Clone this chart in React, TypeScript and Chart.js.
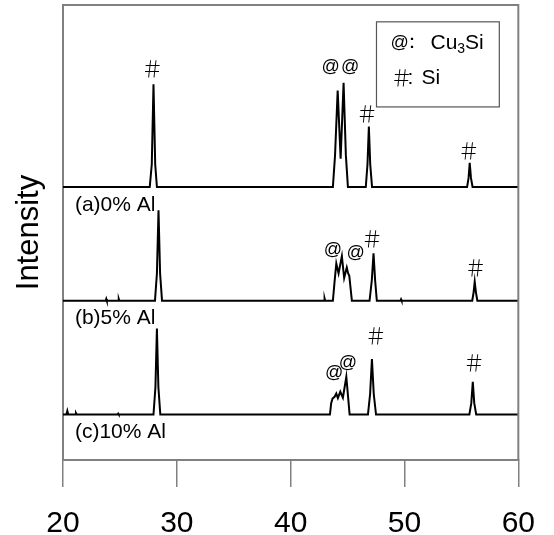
import React, { useEffect, useRef } from 'react';
import { Chart, registerables } from 'chart.js';

Chart.register(...registerables);

// ---- data ----
const X_MIN = 20;
const X_MAX = 60;
const X_STEP = 10;
const Y_TITLE = 'Intensity';

const SAMPLE_LABELS = ['(a)0% Al', '(b)5% Al', '(c)10% Al'];
// vertical offset of each stacked pattern (baseline level)
const SAMPLE_OFFSETS = [60, 35, 10];

// [2θ, intensity above baseline]
const PATTERN_A: [number, number][] = [
  [20, 0], [27.62, 0], [27.8, 5], [27.95, 22.6], [28.1, 5], [28.25, 0],
  [43.71, 0], [43.9, 7], [44.13, 21.2], [44.39, 6.2], [44.65, 22.9], [44.85, 7], [45.03, 0],
  [46.6, 0], [46.75, 5], [46.87, 13.3], [46.99, 5], [47.15, 0],
  [55.5, 0], [55.63, 2], [55.73, 5.3], [55.84, 2], [55.98, 0],
  [60, 0],
];

const PATTERN_B: [number, number][] = [
  [20, 0], [23.75, 0], [23.8, 0.4], [23.85, 0], [24.85, 0], [24.9, 0.4], [24.95, 0],
  [28.08, 0], [28.25, 6], [28.39, 19.9], [28.53, 6], [28.7, 0],
  [42.93, 0], [42.98, 0.5], [43.03, 0],
  [43.71, 0], [43.85, 4], [44.01, 8.2], [44.21, 6.0], [44.5, 9.8], [44.7, 5.0],
  [44.93, 7.3], [45.05, 6.0], [45.15, 5.5], [45.38, 0],
  [46.93, 0], [47.13, 4.5], [47.28, 10.4], [47.42, 4.5], [47.57, 0],
  [49.65, 0], [49.7, 0.3], [49.75, 0],
  [55.95, 0], [56.07, 1.8], [56.17, 4.2], [56.28, 1.8], [56.4, 0],
  [60, 0],
];

const PATTERN_C: [number, number][] = [
  [20, 0], [20.3, 0], [20.38, 0.8], [20.46, 0], [21.08, 0], [21.14, 0.3], [21.2, 0],
  [24.8, 0], [24.85, 0.2], [24.9, 0],
  [27.95, 0], [28.12, 6], [28.25, 18.9], [28.38, 6], [28.55, 0],
  [43.45, 0], [43.56, 2.5], [43.68, 3.5], [43.86, 3.9], [44.01, 4.6], [44.15, 3.6],
  [44.36, 5.0], [44.59, 3.7], [44.89, 8.3], [45.18, 0],
  [46.79, 0], [46.98, 4.5], [47.14, 12.2], [47.3, 4.5], [47.5, 0],
  [55.7, 0], [55.87, 2.5], [56.0, 7.2], [56.13, 2.5], [56.3, 0],
  [60, 0],
];

const PATTERNS = [PATTERN_A, PATTERN_B, PATTERN_C];

// peak markers: [sample index, 2θ, height above baseline, symbol]
const PEAK_MARKS: [number, number, number, string][] = [
  [0, 27.83, 26.0, '#'],
  [0, 43.51, 26.4, '@'],
  [0, 45.22, 26.4, '@'],
  [0, 46.71, 16.2, '#'],
  [0, 55.64, 8.1, '#'],
  [1, 43.71, 11.2, '@'],
  [1, 45.7, 10.5, '@'],
  [1, 47.15, 13.7, '#'],
  [1, 56.23, 7.3, '#'],
  [2, 43.82, 9.2, '@'],
  [2, 45.03, 11.4, '@'],
  [2, 47.48, 17.3, '#'],
  [2, 56.11, 11.3, '#'],
];

// legend entries: symbol, phase (main part, subscript, rest)
const LEGEND_ITEMS: [string, string, string, string][] = [
  ['@', 'Cu', '3', 'Si'],
  ['#', 'Si', '', ''],
];

const SANS = '"Liberation Sans", Arial, Helvetica, sans-serif';
const HASH_FONT = '300 22px "Noto Sans CJK SC", "Noto Sans CJK JP", sans-serif';

function drawText(
  ctx: CanvasRenderingContext2D,
  s: string,
  px: number,
  py: number,
  font: string,
  align: CanvasTextAlign = 'center',
) {
  ctx.font = font;
  ctx.textAlign = align;
  ctx.textBaseline = 'middle';
  ctx.fillStyle = '#000';
  ctx.fillText(s, px, py);
}

function drawSymbol(ctx: CanvasRenderingContext2D, sym: string, px: number, py: number, align: CanvasTextAlign = 'center') {
  if (sym === '#') {
    drawText(ctx, '＃', px, py, HASH_FONT, align);
  } else {
    drawText(ctx, '@', px, py, `18px ${SANS}`, align);
  }
}

const annotationPlugin = {
  id: 'xrdAnnotations',
  afterDatasetsDraw(chart: any) {
    const { ctx, chartArea, scales } = chart;
    const x = scales.x;
    const y = scales.y;
    ctx.save();

    // frame (top and right sides)
    ctx.strokeStyle = '#808080';
    ctx.lineWidth = 2;
    ctx.beginPath();
    ctx.moveTo(chartArea.left, chartArea.top);
    ctx.lineTo(chartArea.right, chartArea.top);
    ctx.lineTo(chartArea.right, chartArea.bottom);
    ctx.stroke();

    // sample labels
    SAMPLE_LABELS.forEach((lab, i) => {
      drawText(ctx, lab, x.getPixelForValue(21.05), y.getPixelForValue(SAMPLE_OFFSETS[i] - 3.9), `21px ${SANS}`, 'left');
    });

    // peak markers
    PEAK_MARKS.forEach(([s, tt, h, sym]) => {
      drawSymbol(ctx, sym, x.getPixelForValue(tt), y.getPixelForValue(SAMPLE_OFFSETS[s] + h));
    });

    // legend box
    const bx0 = x.getPixelForValue(47.54);
    const bx1 = x.getPixelForValue(58.33);
    const by0 = y.getPixelForValue(96.3);
    const by1 = y.getPixelForValue(77.6);
    ctx.strokeStyle = '#555';
    ctx.lineWidth = 1.2;
    ctx.strokeRect(bx0, by0, bx1 - bx0, by1 - by0);

    const rowY = [by0 + 21, by0 + 56];
    LEGEND_ITEMS.forEach(([sym, main, sub, rest], i) => {
      const ry = rowY[i];
      const sx = bx0 + 14;
      drawSymbol(ctx, sym, sx, ry, 'left');
      let cx: number;
      if (sym === '@') {
        drawText(ctx, '：', sx + 12, ry, `20px ${SANS}`, 'left');
        cx = sx + 40;
      } else {
        drawText(ctx, ':', sx + 17, ry, `21px ${SANS}`, 'left');
        cx = sx + 31;
      }
      drawText(ctx, main, cx, ry, `21px ${SANS}`, 'left');
      ctx.font = `21px ${SANS}`;
      cx += ctx.measureText(main).width;
      if (sub) {
        drawText(ctx, sub, cx, ry + 6, `14px ${SANS}`, 'left');
        ctx.font = `14px ${SANS}`;
        cx += ctx.measureText(sub).width;
      }
      if (rest) {
        drawText(ctx, rest, cx, ry, `21px ${SANS}`, 'left');
      }
    });

    ctx.restore();
  },
};

export default function App() {
  const canvasRef = useRef<HTMLCanvasElement | null>(null);

  useEffect(() => {
    if (!canvasRef.current) return;
    const datasets = PATTERNS.map((pat, i) => ({
      label: SAMPLE_LABELS[i],
      data: pat.map(([tt, v]) => ({ x: tt, y: v + SAMPLE_OFFSETS[i] })),
      borderColor: '#000',
      borderWidth: 2,
      pointRadius: 0,
      tension: 0,
      fill: false,
    }));

    const chart = new Chart(canvasRef.current, {
      type: 'line',
      data: { datasets },
      options: {
        animation: false,
        responsive: false,
        maintainAspectRatio: false,
        layout: { padding: { top: 5, right: 35, left: 0, bottom: 0 } },
        plugins: {
          legend: { display: false },
          tooltip: { enabled: false },
        },
        scales: {
          x: {
            type: 'linear',
            min: X_MIN,
            max: X_MAX,
            ticks: {
              stepSize: X_STEP,
              color: '#000',
              padding: 19,
              font: { size: 30, family: SANS },
            },
            grid: {
              drawOnChartArea: false,
              drawTicks: true,
              tickLength: 27,
              color: '#808080',
              lineWidth: 1.5,
            },
            border: { display: true, color: '#808080', width: 2 },
            afterFit: (s: any) => {
              s.height = 75;
            },
          },
          y: {
            type: 'linear',
            min: 0,
            max: 100,
            ticks: { display: false },
            grid: { display: false },
            border: { display: true, color: '#808080', width: 2 },
            title: {
              display: true,
              text: Y_TITLE,
              color: '#000',
              font: { size: 31, family: SANS },
              padding: { top: 11, bottom: 0 },
            },
            afterFit: (s: any) => {
              s.width = 63;
            },
          },
        },
      },
      plugins: [annotationPlugin],
    });
    return () => chart.destroy();
  }, []);

  return (
    <div style={{ position: 'fixed', left: 0, top: 0, width: 554, height: 535, background: '#fff' }}>
      <canvas ref={canvasRef} width={554} height={535} />
    </div>
  );
}
